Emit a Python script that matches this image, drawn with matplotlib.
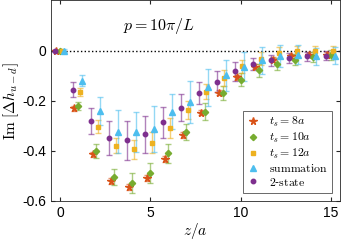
import numpy as np
import matplotlib
matplotlib.use("Agg")
import matplotlib.pyplot as plt

plt.rcParams['mathtext.fontset'] = 'cm'
plt.rcParams['font.family'] = ['Liberation Sans', 'DejaVu Sans']

z = np.arange(16)

# t_s = 8a
ts8 = [0, -0.229, -0.413, -0.52, -0.546, -0.508, -0.432, -0.335, -0.247, -0.169,
       -0.107, -0.065, -0.036, -0.023, -0.016, -0.016]
ts8_err = [0.003, 0.010, 0.010, 0.012, 0.012, 0.012, 0.012, 0.012, 0.011, 0.010,
           0.010, 0.010, 0.010, 0.010, 0.010, 0.010]
# t_s = 10a
ts10 = [0, -0.22, -0.40, -0.505, -0.528, -0.488, -0.41, -0.325, -0.243, -0.169,
        -0.116, -0.079, -0.053, -0.036, -0.025, -0.019]
ts10_err = [0.004, 0.016, 0.027, 0.033, 0.039, 0.039, 0.038, 0.032, 0.032, 0.028,
            0.025, 0.025, 0.025, 0.022, 0.020, 0.020]
# t_s = 12a
ts12 = [0, -0.165, -0.303, -0.379, -0.394, -0.367, -0.31, -0.236, -0.165, -0.109,
        -0.063, -0.032, -0.009, 0.0, 0.0, 0.0]
ts12_err = [0.004, 0.015, 0.026, 0.030, 0.037, 0.043, 0.040, 0.036, 0.030, 0.033,
            0.027, 0.025, 0.022, 0.020, 0.020, 0.020]
# summation
summ = [0, -0.121, -0.24, -0.323, -0.324, -0.312, -0.243, -0.206, -0.146, -0.099,
        -0.064, -0.039, -0.022, -0.016, -0.023, -0.02]
summ_err = [0.005, 0.022, 0.055, 0.087, 0.081, 0.093, 0.070, 0.083, 0.074, 0.063,
            0.058, 0.054, 0.043, 0.038, 0.035, 0.035]
# 2-state
two = [0, -0.156, -0.28, -0.348, -0.358, -0.334, -0.285, -0.227, -0.169, -0.124,
       -0.083, -0.052, -0.039, -0.029, -0.023, -0.02]
two_err = [0.004, 0.029, 0.053, 0.067, 0.078, 0.074, 0.062, 0.055, 0.045, 0.043,
           0.037, 0.024, 0.022, 0.020, 0.018, 0.017]

series = [
    (ts8, ts8_err, -0.2, '*', '#D95319', r'$t_s=8a$', 5.5),
    (ts10, ts10_err, 0.0, 'D', '#77AC30', r'$t_s=10a$', 3.2),
    (ts12, ts12_err, 0.1, 's', '#EDB120', r'$t_s=12a$', 3.2),
    (summ, summ_err, 0.2, '^', '#4DBEEE', r'$\mathrm{summation}$', 4.2),
    (two, two_err, -0.3, 'o', '#7E2F8E', r'$\mathrm{2}$-$\mathrm{state}$', 3.2),
]

fig = plt.figure(figsize=(3.41, 2.41), dpi=100)
ax = fig.add_axes([0.1496, 0.166, 0.8474, 0.832])

ax.axhline(0, color='black', linestyle=':', linewidth=1.0, zorder=1)

for vals, errs, off, mk, col, lab, ms in series:
    ax.errorbar(z + off, vals, yerr=errs, fmt='none', ecolor=col, alpha=0.6,
                elinewidth=1.0, capsize=2.5, capthick=1.0, zorder=2)
    ax.plot(z + off, vals, linestyle='none', marker=mk, color=col, markersize=ms,
            label=lab, zorder=3)

ax.text(3.5, 0.1, r'$p=10\pi/L$', fontsize=11.5, va='center', ha='left')

ax.set_xlim(-0.5, 15.5)
ax.set_ylim(-0.6, 0.2)
ax.set_xticks([0, 5, 10, 15])
ax.set_yticks([-0.6, -0.4, -0.2, 0])
ax.set_yticklabels(['-0.6', '-0.4', '-0.2', '0'])
ax.tick_params(direction='in', top=True, right=True, labelsize=10, length=3,
               colors='#262626', labelcolor='black')
for s in ax.spines.values():
    s.set_color('#262626')
    s.set_linewidth(0.6)

ax.set_xlabel(r'$z/a$', fontsize=11, labelpad=1)
ax.set_ylabel(r'$\mathrm{Im}\ [\Delta h_{u-d}]$', fontsize=11, labelpad=1)

leg = ax.legend(loc='lower right', fontsize=8.5, frameon=True, fancybox=False,
                edgecolor='#262626', handlelength=1.0, handletextpad=0.8,
                borderpad=0.35, labelspacing=0.15, borderaxespad=0.7)
leg.get_frame().set_linewidth(0.6)

fig.savefig('out.png', dpi=100)
